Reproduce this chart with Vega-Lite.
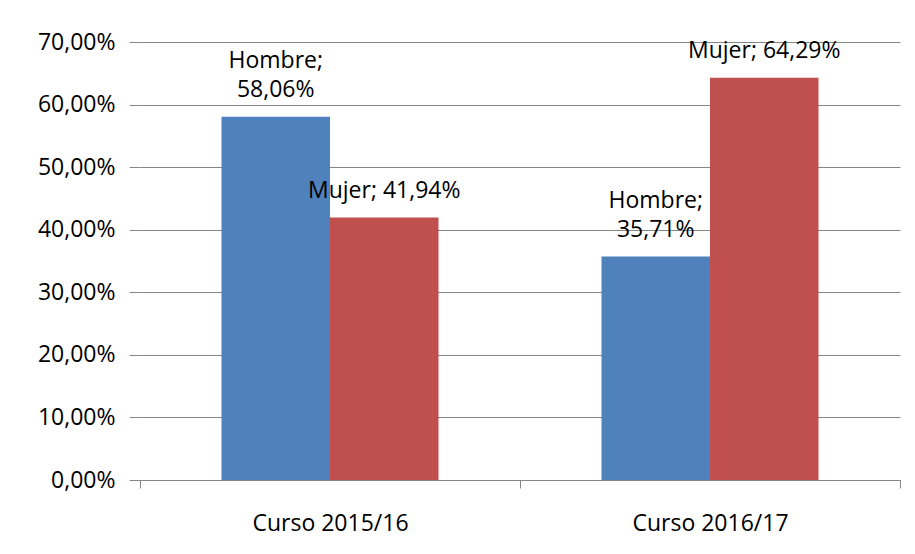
{
  "$schema": "https://vega.github.io/schema/vega-lite/v6.json",
  "width": 760,
  "height": 438,
  "autosize": {"type": "none"},
  "padding": {"left": 140, "top": 42, "right": 15, "bottom": 74},
  "config": {
    "locale": {"number": {"decimal": ",", "thousands": ".", "grouping": [3], "currency": ["", "€"]}},
    "view": {"stroke": null},
    "font": "Open Sans"
  },
  "data": {
    "values": [
      {"curso": "Curso 2015/16", "sexo": "Hombre", "valor": 0.5806, "linea1": "Hombre;", "linea2": "58,06%"},
      {"curso": "Curso 2015/16", "sexo": "Mujer", "valor": 0.4194, "linea1": "", "linea2": "Mujer; 41,94%"},
      {"curso": "Curso 2016/17", "sexo": "Hombre", "valor": 0.3571, "linea1": "Hombre;", "linea2": "35,71%"},
      {"curso": "Curso 2016/17", "sexo": "Mujer", "valor": 0.6429, "linea1": "", "linea2": "Mujer; 64,29%"}
    ]
  },
  "encoding": {
    "x": {
      "field": "curso",
      "type": "nominal",
      "scale": {"paddingInner": 0, "paddingOuter": 0},
      "axis": {
        "title": null,
        "labelAngle": 0,
        "labelFontSize": 23,
        "labelColor": "#000000",
        "tickBand": "extent",
        "tickSize": 8,
        "tickColor": "#868686",
        "domainColor": "#868686",
        "labelPadding": 24,
        "grid": false
      }
    },
    "xOffset": {
      "field": "sexo",
      "type": "nominal",
      "sort": ["Hombre", "Mujer"],
      "scale": {"paddingInner": 0, "paddingOuter": 0.751}
    },
    "y": {
      "field": "valor",
      "type": "quantitative",
      "scale": {"domain": [0, 0.7], "nice": false},
      "axis": {
        "title": null,
        "values": [0, 0.1, 0.2, 0.3, 0.4, 0.5, 0.6, 0.7],
        "format": ".2%",
        "labelFontSize": 23,
        "labelColor": "#000000",
        "tickSize": 11,
        "tickColor": "#868686",
        "gridColor": "#868686",
        "gridOpacity": 1,
        "domain": false,
        "labelPadding": 14
      }
    }
  },
  "layer": [
    {
      "mark": {"type": "bar"},
      "encoding": {
        "color": {
          "field": "sexo",
          "type": "nominal",
          "scale": {"domain": ["Hombre", "Mujer"], "range": ["#4F81BD", "#C0504D"]},
          "legend": null
        }
      }
    },
    {
      "mark": {"type": "text", "baseline": "alphabetic", "dy": -20, "fontSize": 23, "color": "#000000"},
      "encoding": {"text": {"field": "linea2", "type": "nominal"}}
    },
    {
      "mark": {"type": "text", "baseline": "alphabetic", "dy": -49, "fontSize": 23, "color": "#000000"},
      "encoding": {"text": {"field": "linea1", "type": "nominal"}}
    }
  ]
}
